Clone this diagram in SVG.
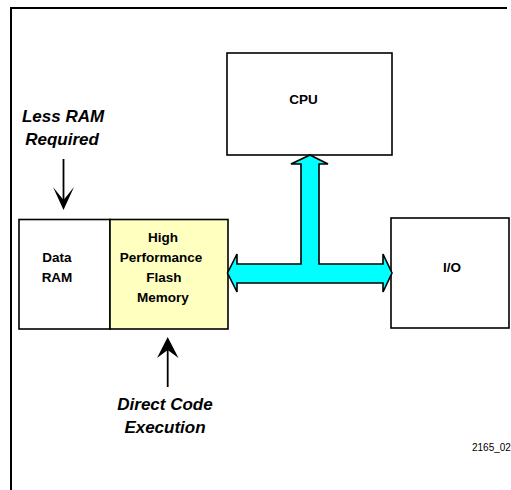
<svg xmlns="http://www.w3.org/2000/svg" width="511" height="490" viewBox="0 0 511 490">
<style>
.box{stroke:#000;stroke-width:1.6}
.lbl{font-family:"Liberation Sans",Arial,sans-serif;font-weight:bold;font-size:13.5px;text-anchor:middle;fill:#000}
.note{font-family:"Liberation Sans",Arial,sans-serif;font-weight:bold;font-style:italic;font-size:17px;text-anchor:middle;fill:#000}
.small{font-family:"Liberation Sans",Arial,sans-serif;font-size:10px;fill:#000}
</style>
<rect width="511" height="490" fill="#fff"/>
<g id="frame">
<path d="M11,490 V8 H507" fill="none" stroke="#000" stroke-width="2"/>
</g>
<g id="cpu">
<rect class="box" x="227" y="53" width="165" height="102" fill="#fff"/>
<text class="lbl" x="303.5" y="104">CPU</text>
</g>
<g id="dataram">
<rect class="box" x="19" y="219.5" width="91" height="109.5" fill="#fff"/>
<text class="lbl" x="57" y="262">Data</text>
<text class="lbl" x="57" y="282">RAM</text>
</g>
<g id="flash">
<rect class="box" x="110" y="219.5" width="118" height="109.5" fill="#ffffbf"/>
<text class="lbl" x="163" y="242">High</text>
<text class="lbl" x="161" y="262">Performance</text>
<text class="lbl" x="164" y="282">Flash</text>
<text class="lbl" x="163" y="302">Memory</text>
</g>
<g id="io">
<rect class="box" x="391" y="218" width="118" height="110" fill="#fff"/>
<text class="lbl" x="452" y="272">I/O</text>
</g>
<g id="connectors">
<polygon points="310,155 328,164 319,164 319,264 383,264 383,254 392,273 383,292 383,283 237,283 237,292 227.5,273 237,254 237,264 301,264 301,164 291,164" fill="#00ffff" stroke="#000" stroke-width="1.6" stroke-linejoin="miter"/>
<line x1="63.5" y1="159" x2="63.5" y2="202" stroke="#000" stroke-width="1.8"/>
<polygon points="63.5,210 74,187 63.5,200 53,187" fill="#000"/>
<line x1="167.7" y1="348" x2="167.7" y2="387" stroke="#000" stroke-width="1.8"/>
<polygon points="167.7,337 178.5,358 167.7,350 157,358" fill="#000"/>
</g>
<g id="notes">
<text class="note" x="63" y="122">Less RAM</text>
<text class="note" x="62" y="145">Required</text>
<text class="note" x="165" y="410">Direct Code</text>
<text class="note" x="165" y="433">Execution</text>
<text class="small" x="472" y="451">2165_02</text>
</g>
</svg>
